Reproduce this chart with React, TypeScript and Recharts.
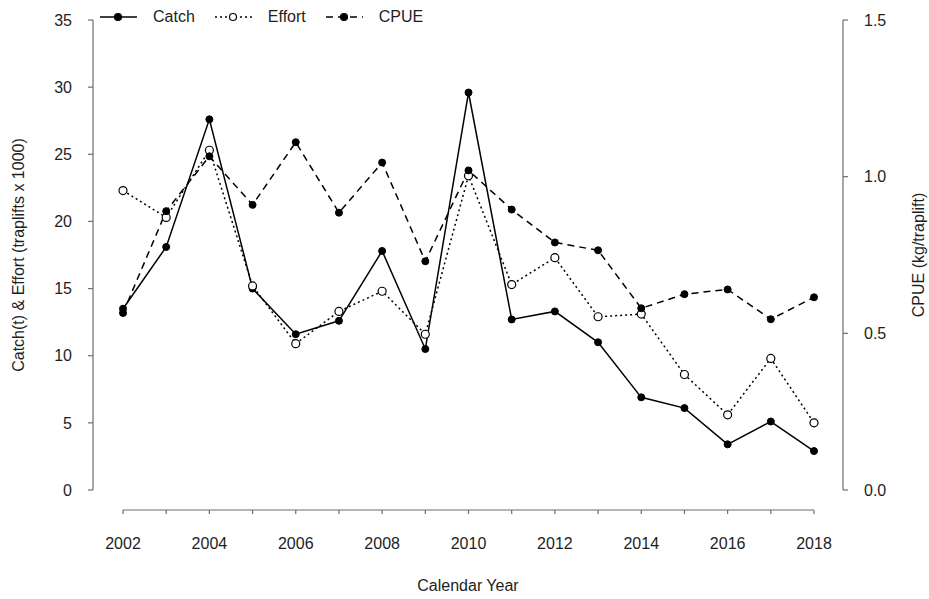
import {
  ComposedChart,
  Line,
  XAxis,
  YAxis,
  Legend,
  ReferenceLine,
} from "recharts";

// values
const years = [2002, 2003, 2004, 2005, 2006, 2007, 2008, 2009, 2010, 2011, 2012, 2013, 2014, 2015, 2016, 2017, 2018];
const catchT = [13.5, 18.1, 27.6, 15.0, 11.6, 12.6, 17.8, 10.5, 29.6, 12.7, 13.3, 11.0, 6.9, 6.1, 3.4, 5.1, 2.9];
const effort = [22.3, 20.3, 25.3, 15.2, 10.9, 13.3, 14.8, 11.6, 23.4, 15.3, 17.3, 12.9, 13.1, 8.6, 5.6, 9.8, 5.0];
const cpue = [0.565, 0.89, 1.065, 0.91, 1.11, 0.885, 1.045, 0.73, 1.02, 0.895, 0.79, 0.765, 0.58, 0.625, 0.64, 0.545, 0.615];

const leftTicks = [0, 5, 10, 15, 20, 25, 30, 35];
const rightTicks = [0, 0.5, 1.0, 1.5];

const W = 929;
const H = 599;
const TOP = 20;
const X_AXIS_H = 109;
const PLOT_H = H - TOP - X_AXIS_H;
const AXIS_GAP = 20; // x axis sits detached below the plot
const FONT = '"Liberation Sans", Arial, sans-serif';
const AXIS = "#6e6e6e";
const INK = "#1e1e1e";

const data = years.map((year, i) => ({
  year,
  catch: catchT[i],
  effort: effort[i],
  cpue: cpue[i],
}));

const series = [
  { key: "catch", name: "Catch", dash: undefined, hollow: false },
  { key: "effort", name: "Effort", dash: "2 3", hollow: true },
  { key: "cpue", name: "CPUE", dash: "7 5", hollow: false },
];

// y value (left axis units) of the detached x-axis baseline
const baseY = (-AXIS_GAP * leftTicks[leftTicks.length - 1]) / PLOT_H;

function XTick(props: any) {
  const { x, y, payload } = props;
  const yr = payload.value as number;
  return (
    <g>
      <line x1={x} x2={x} y1={y + AXIS_GAP} y2={y + AXIS_GAP + 4} stroke={AXIS} strokeWidth={1.2} />
      {yr % 2 === 0 && (
        <text
          x={x}
          y={y + AXIS_GAP + 33}
          textAnchor="middle"
          dominantBaseline="central"
          fill={INK}
          fontSize={16}
          fontFamily={FONT}
        >
          {yr}
        </text>
      )}
    </g>
  );
}

const yTitle = (text: string, dx: number) => (props: any) => {
  const vb = props.viewBox;
  const cx = vb.x + dx;
  const cy = vb.y + vb.height / 2;
  return (
    <text
      x={cx}
      y={cy}
      transform={`rotate(-90 ${cx} ${cy})`}
      textAnchor="middle"
      dominantBaseline="central"
      fill={INK}
      fontSize={16}
      fontFamily={FONT}
    >
      {text}
    </text>
  );
};

const xTitle = (props: any) => {
  const vb = props.viewBox;
  return (
    <text
      x={vb.x + vb.width / 2}
      y={vb.y + 95}
      textAnchor="middle"
      dominantBaseline="central"
      fill={INK}
      fontSize={16}
      fontFamily={FONT}
    >
      Calendar Year
    </text>
  );
};

function LegendIcon({ dash, hollow }: { dash?: string; hollow: boolean }) {
  return (
    <svg width={37} height={12} style={{ display: "block" }}>
      <line x1={0} x2={37} y1={6} y2={6} stroke="#000" strokeWidth={1.5} strokeDasharray={dash} />
      <circle cx={18} cy={6} r={3.5} fill={hollow ? "#fff" : "#000"} stroke="#000" strokeWidth={1.2} />
    </svg>
  );
}

function renderLegend() {
  return (
    <div style={{ display: "flex", alignItems: "center", fontFamily: FONT, fontSize: 16, color: INK }}>
      {series.map((s) => (
        <div key={s.key} style={{ display: "flex", alignItems: "center", marginRight: 20 }}>
          <LegendIcon dash={s.dash} hollow={s.hollow} />
          <span style={{ marginLeft: 16 }}>{s.name}</span>
        </div>
      ))}
    </div>
  );
}

export default function App() {
  const tickStyle = { fill: INK, fontSize: 16, fontFamily: FONT };
  return (
    <div style={{ position: "absolute", left: 0, top: 0, width: W, height: H, background: "#fff" }}>
      <ComposedChart width={W} height={H} data={data} margin={{ top: TOP, right: 0, bottom: 0, left: 0 }}>
        <XAxis
          dataKey="year"
          type="number"
          domain={[2002, 2018]}
          ticks={years}
          interval={0}
          padding={{ left: 30, right: 29 }}
          axisLine={false}
          tickLine={false}
          tickSize={0}
          tickMargin={0}
          height={X_AXIS_H}
          tick={<XTick />}
          label={{ content: xTitle }}
        />
        <YAxis
          yAxisId="left"
          width={93}
          domain={[0, 35]}
          ticks={leftTicks}
          interval={0}
          tick={tickStyle}
          tickSize={5}
          tickMargin={16}
          axisLine={{ stroke: AXIS, strokeWidth: 1.2 }}
          tickLine={{ stroke: AXIS, strokeWidth: 1.2 }}
          label={{ content: yTitle("Catch(t) & Effort (traplifts x 1000)", 18) }}
        />
        <YAxis
          yAxisId="right"
          orientation="right"
          width={86}
          domain={[0, 1.5]}
          ticks={rightTicks}
          interval={0}
          tick={tickStyle}
          tickFormatter={(v: number) => v.toFixed(1)}
          tickSize={5}
          tickMargin={16}
          axisLine={{ stroke: AXIS, strokeWidth: 1.2 }}
          tickLine={{ stroke: AXIS, strokeWidth: 1.2 }}
          label={{ content: yTitle("CPUE (kg/traplift)", 75) }}
        />
        <ReferenceLine
          yAxisId="left"
          segment={[
            { x: years[0], y: baseY },
            { x: years[years.length - 1], y: baseY },
          ]}
          ifOverflow="visible"
          stroke={AXIS}
          strokeWidth={1.2}
        />
        <Legend
          verticalAlign="middle"
          content={renderLegend}
          wrapperStyle={{ top: 8, left: 100, width: "auto" }}
        />
        <Line
          yAxisId="left"
          dataKey="catch"
          name="Catch"
          stroke="#000"
          strokeWidth={1.5}
          dot={{ r: 3.5, fill: "#000", stroke: "#000", strokeWidth: 1 }}
          isAnimationActive={false}
        />
        <Line
          yAxisId="left"
          dataKey="effort"
          name="Effort"
          stroke="#000"
          strokeWidth={1.5}
          strokeDasharray="2 3"
          dot={{ r: 4, fill: "#fff", stroke: "#000", strokeWidth: 1.2, strokeDasharray: "" }}
          isAnimationActive={false}
        />
        <Line
          yAxisId="right"
          dataKey="cpue"
          name="CPUE"
          stroke="#000"
          strokeWidth={1.5}
          strokeDasharray="7 5"
          dot={{ r: 3.5, fill: "#000", stroke: "#000", strokeWidth: 1, strokeDasharray: "" }}
          isAnimationActive={false}
        />
      </ComposedChart>
    </div>
  );
}
